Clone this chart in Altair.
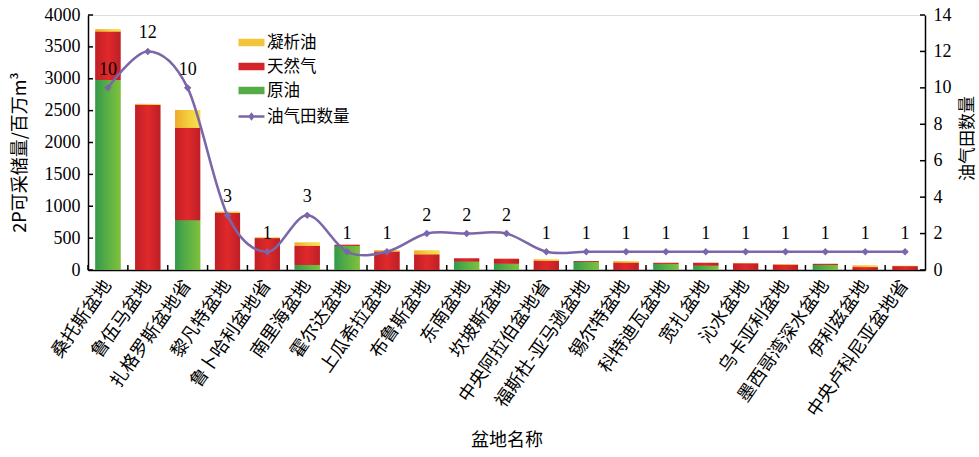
import altair as alt
import pandas as pd

# Basins, reserves by type (百万m³) and number of oil/gas fields per basin
basins = [
    "桑托斯盆地", "鲁伍马盆地", "扎格罗斯盆地省", "黎凡特盆地", "鲁卜哈利盆地省",
    "南里海盆地", "霍尔达盆地", "上瓜希拉盆地", "布鲁斯盆地", "东南盆地",
    "坎坡斯盆地", "中央阿拉伯盆地省", "福斯杜-亚马逊盆地", "锡尔特盆地", "科特迪瓦盆地",
    "宽扎盆地", "沁水盆地", "乌卡亚利盆地", "墨西哥湾深水盆地", "伊利兹盆地",
    "中央卢科尼亚盆地省",
]
crude_oil = [2980, 0, 780, 0, 0, 80, 380, 0, 0, 135, 100, 0, 128, 0, 97, 70, 0, 0, 81, 0, 0]
natural_gas = [760, 2590, 1450, 900, 500, 300, 15, 290, 245, 45, 75, 145, 15, 117, 15, 42, 105, 82, 15, 45, 60]
condensate = [35, 15, 280, 15, 10, 50, 0, 20, 60, 0, 0, 20, 0, 20, 0, 0, 5, 10, 0, 25, 5]
field_count = [10, 12, 10, 3, 1, 3, 1, 1, 2, 2, 2, 1, 1, 1, 1, 1, 1, 1, 1, 1, 1]

left_ticks = [0, 500, 1000, 1500, 2000, 2500, 3000, 3500, 4000]
right_ticks = [0, 2, 4, 6, 8, 10, 12, 14]

series = ["凝析油", "天然气", "原油"]
series_colors = ["#f2c43a", "#d6252a", "#55ac45"]
line_name = "油气田数量"
purple = "#7a66a8"

W, H = 837, 255
SERIF = "Liberation Serif, Noto Sans CJK SC"
CJK = "Noto Sans CJK SC"

wide = pd.DataFrame({
    "盆地": basins,
    "原油": crude_oil,
    "天然气": natural_gas,
    "凝析油": condensate,
    "数量": field_count,
})
long = wide.melt(id_vars=["盆地"], value_vars=["原油", "天然气", "凝析油"],
                 var_name="类型", value_name="储量")
long["序"] = long["类型"].map({"原油": 0, "天然气": 1, "凝析油": 2})

x_axis = alt.Axis(
    title="盆地名称", titleFont=CJK, titleFontSize=18, titleFontWeight="normal",
    titleColor="black", titleX=W / 2, titleY=170, titleBaseline="middle",
    labelAngle=-55, labelAlign="right", labelBaseline="middle", labelPadding=12,
    labelFont=CJK, labelFontSize=18, labelColor="black",
    ticks=False, tickSize=0, domainColor="black", domainWidth=1.5,
)
x_enc = alt.X("盆地:N", sort=basins, scale=alt.Scale(paddingInner=0, paddingOuter=0), axis=x_axis)

left_axis = alt.Axis(
    title="2P可采储量/百万m³", titleFont=CJK, titleFontSize=18, titleFontWeight="normal",
    titleColor="black", titleAngle=270, titleX=-68, titleY=137, titleBaseline="middle",
    values=left_ticks, format="d", labelFont=SERIF, labelFontSize=18, labelColor="black",
    labelPadding=8, ticks=False, tickSize=0, grid=False,
    domainColor="black", domainWidth=1.5,
)
left_scale = alt.Scale(domain=[0, 4000], nice=False)

right_axis = alt.Axis(
    orient="right", title=line_name, titleFont=CJK, titleFontSize=17, titleFontWeight="normal",
    titleColor="black", titleAngle=270, titleX=42, titleY=123, titleBaseline="middle",
    values=right_ticks, format="d", labelFont=SERIF, labelFontSize=18, labelColor="black",
    labelPadding=8, ticks=False, tickSize=0, grid=False,
    domainColor="black", domainWidth=1.5,
)
right_scale = alt.Scale(domain=[0, 14], nice=False)

bar_width = {"band": 0.63}


def grad(stops):
    return {
        "gradient": "linear", "x1": 0, "y1": 0, "x2": 1, "y2": 0,
        "stops": [{"offset": o, "color": c} for o, c in stops],
    }


RECT_PATH = "M-1.25,-0.36H1.25V0.36H-1.25Z"
LINE_PATH = ("M-1.25,-0.12L1.25,-0.12L1.25,0.12L-1.25,0.12Z "
             "M0,-0.4L0.32,0L0,0.4L-0.32,0Z")
KEY_FONT = 16.5

# flat stacked bars (also carry the reserve-type legend)
flat = alt.Chart(long).mark_bar(width=bar_width).encode(
    x=x_enc,
    y=alt.Y("储量:Q", stack="zero", scale=left_scale, axis=left_axis),
    color=alt.Color(
        "类型:N",
        scale=alt.Scale(domain=series, range=series_colors),
        legend=alt.Legend(
            title=None, orient="none", legendX=153, legendY=17, padding=0,
            symbolType=RECT_PATH, symbolSize=432, symbolStrokeWidth=0,
            labelFont=CJK, labelFontSize=KEY_FONT, labelColor="black", labelOffset=5,
            rowPadding=5,
        ),
    ),
    order=alt.Order("序:Q"),
)

# shaded segments drawn over the flat stack
base_w = alt.Chart(wide).transform_calculate(
    a0="0",
    a1="datum['原油']",
    a2="datum['原油'] + datum['天然气']",
    a3="datum['原油'] + datum['天然气'] + datum['凝析油']",
)
oil_bar = base_w.mark_bar(width=bar_width, fill=grad(
    [(0, "#35984a"), (0.45, "#56ae46"), (1, "#80c03c")])).encode(
    x=x_enc, y=alt.Y("a0:Q", scale=left_scale, axis=left_axis), y2="a1:Q")
gas_bar = base_w.mark_bar(width=bar_width, fill=grad(
    [(0, "#c01f26"), (0.5, "#e0292b"), (1, "#bd1f26")])).encode(
    x=x_enc, y=alt.Y("a1:Q", scale=left_scale, axis=left_axis), y2="a2:Q")
cond_bar = base_w.mark_bar(width=bar_width, fill=grad(
    [(0, "#efa92e"), (0.5, "#f3cd3c"), (1, "#f6e34e")])).encode(
    x=x_enc, y=alt.Y("a2:Q", scale=left_scale, axis=left_axis), y2="a3:Q")

# inward ticks on the left and bottom axes
left_tick_marks = alt.Chart(pd.DataFrame({"v": left_ticks})).mark_rule(
    color="black", strokeWidth=1.5).encode(
    y=alt.Y("v:Q", scale=left_scale, axis=left_axis),
    x=alt.value(0), x2=alt.value(5),
)
bottom_tick_marks = alt.Chart(wide).mark_rule(color="black", strokeWidth=1.5).encode(
    x=alt.X("盆地:N", sort=basins, bandPosition=0,
            scale=alt.Scale(paddingInner=0, paddingOuter=0), axis=x_axis),
    y=alt.value(H), y2=alt.value(H - 5),
)

left_group = alt.layer(flat, oil_bar, gas_bar, cond_bar, left_tick_marks, bottom_tick_marks)

# field count line on the right axis
y_right = alt.Y("数量:Q", scale=right_scale, axis=right_axis)
line = alt.Chart(wide).mark_line(
    interpolate="cardinal", color=purple, strokeWidth=2.5).encode(x=x_enc, y=y_right)
markers = alt.Chart(wide).mark_point(
    shape="diamond", filled=True, size=55, color=purple, opacity=1).encode(x=x_enc, y=y_right)
labels = alt.Chart(wide).mark_text(
    font=SERIF, fontSize=18, color="black", baseline="alphabetic", dy=-13).encode(
    x=x_enc, y=y_right, text="数量:Q")
right_tick_marks = alt.Chart(pd.DataFrame({"v": right_ticks})).mark_rule(
    color="black", strokeWidth=1.5).encode(
    y=alt.Y("v:Q", scale=right_scale, axis=right_axis),
    x=alt.value(W), x2=alt.value(W - 5),
)
line_key = alt.Chart(wide).transform_calculate(系列="'油气田数量'").mark_point(
    filled=True, shape=LINE_PATH, size=432, opacity=0).encode(
    x=x_enc, y=y_right,
    color=alt.Color(
        "系列:N",
        scale=alt.Scale(domain=[line_name], range=[purple]),
        legend=alt.Legend(
            title=None, orient="none", legendX=153, legendY=91, padding=0,
            symbolType=LINE_PATH, symbolSize=432, symbolOpacity=1, symbolStrokeWidth=0,
            labelFont=CJK, labelFontSize=KEY_FONT, labelColor="black", labelOffset=5,
        ),
    ),
)

right_group = alt.layer(line, markers, labels, right_tick_marks, line_key)

chart = alt.layer(left_group, right_group).resolve_scale(
    y="independent", color="independent"
).properties(
    width=W, height=H,
    autosize=alt.AutoSizeParams(type="none"),
    padding={"left": 88, "top": 15, "right": 979 - 88 - W, "bottom": 457 - 15 - H},
).configure_view(stroke=None).configure(background="white")

chart.save("out.html", embed_options={"renderer": "svg", "actions": False})
